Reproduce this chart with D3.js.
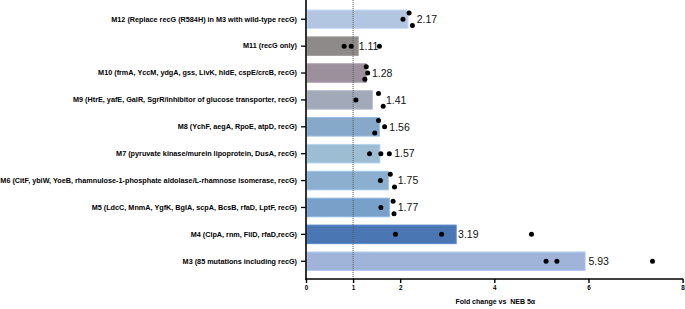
<!DOCTYPE html>
<html>
<head>
<meta charset="utf-8">
<script src="https://cdn.jsdelivr.net/npm/d3@7"></script>
<style>
  html, body { margin: 0; padding: 0; background: #fff; }
  svg { display: block; font-family: "Liberation Sans", Arial, Helvetica, sans-serif; }
</style>
</head>
<body>
<svg id="chart" width="685" height="309"></svg>
<script>
// ---- data ----
const categories = [
  "M12 (Replace recG (R584H) in M3 with wild-type recG)",
  "M11 (recG only)",
  "M10 (frmA, YccM, ydgA, gss, LivK, hldE, cspE/crcB, recG)",
  "M9 (HtrE, yafE, GalR, SgrR/inhibitor of glucose transporter, recG)",
  "M8 (YchF, aegA, RpoE, atpD, recG)",
  "M7 (pyruvate kinase/murein lipoprotein, DusA, recG)",
  "M6 (CitF, ybiW, YoeB, rhamnulose-1-phosphate aldolase/L-rhamnose isomerase, recG)",
  "M5 (LdcC, MnmA, YgfK, BglA, scpA, BcsB, rfaD, LptF, recG)",
  "M4 (ClpA, rnm, FliD, rfaD,recG)",
  "M3 (85 mutations including recG)"
];
const meanValues = [2.17, 1.11, 1.28, 1.41, 1.56, 1.57, 1.75, 1.77, 3.19, 5.93];
const meanLabels = ["2.17", "1.11", "1.28", "1.41", "1.56", "1.57", "1.75", "1.77", "3.19", "5.93"];
// replicate values (three per strain)
const rep1 = [2.19, 0.81, 1.28, 1.54, 1.54, 1.35, 1.79, 1.85, 1.90, 5.10];
const rep2 = [2.06, 0.96, 1.31, 1.06, 1.67, 1.59, 1.58, 1.59, 2.88, 5.33];
const rep3 = [2.26, 1.56, 1.25, 1.64, 1.46, 1.77, 1.88, 1.87, 4.79, 7.36];
// row of each replicate within the bar (-1 upper, 0 middle, 1 lower)
const rep1Row = [-1, 0, -1, -1, -1, 0, -1, -1, 0, 0];
const rep2Row = [0, 0, 0, 0, 0, 0, 0, 0, 0, 0];
const rep3Row = [1, 0, 1, 1, 1, 0, 1, 1, 0, 0];
// where the mean label starts (in fold-change units)
const labelAt = [2.35, 1.12, 1.40, 1.70, 1.77, 1.875, 1.95, 1.95, 3.23, 6.0];
const barColors = ["#b2c6e1", "#8e8a8a", "#9c909d", "#a2a9b8", "#86a9c9", "#9dbdd3",
                   "#8cafcf", "#78a0c9", "#4b76b4", "#a0b4d9"];
const xTicks = [0, 1, 2, 4, 6, 8];
const refLine = 1;
const xTitle = "Fold change vs  NEB 5\u03b1";

// ---- layout ----
const svg = d3.select("#chart");
const x0 = 306, x1 = 682.6, axisY = 279;

const x = d3.scaleLinear().domain([0, 8]).range([x0, x1]);
const y = d3.scaleBand().domain(categories).range([5.8, 274.7])
  .paddingInner(0.31).paddingOuter(0.155);

// bars
svg.append("g").selectAll("rect").data(categories).join("rect")
  .attr("x", x(0) + 1)
  .attr("y", d => y(d))
  .attr("width", (d, i) => x(meanValues[i]) - x(0) - 1)
  .attr("height", y.bandwidth())
  .attr("fill", (d, i) => barColors[i])
  .attr("stroke", (d, i) => d3.color(barColors[i]).brighter(0.35))
  .attr("stroke-width", 1);

// reference dotted line
svg.append("line")
  .attr("x1", x(refLine)).attr("x2", x(refLine))
  .attr("y1", 0).attr("y2", axisY)
  .attr("stroke", "#555").attr("stroke-width", 1)
  .attr("stroke-dasharray", "1,1");

// replicate dots
const pts = [];
categories.forEach((c, i) => {
  [[rep1, rep1Row], [rep2, rep2Row], [rep3, rep3Row]].forEach(([v, r]) => {
    pts.push({ c, v: v[i], r: r[i] });
  });
});
svg.append("g").selectAll("circle").data(pts).join("circle")
  .attr("cx", d => x(d.v))
  .attr("cy", d => y(d.c) + y.bandwidth() / 2 + d.r * 6.3)
  .attr("r", 2.5)
  .attr("fill", "#000");

// mean labels
svg.append("g").selectAll("text").data(categories).join("text")
  .attr("x", (d, i) => x(labelAt[i]))
  .attr("y", d => y(d) + y.bandwidth() / 2)
  .attr("dy", "0.36em")
  .attr("font-size", "10.5px")
  .attr("fill", "#111")
  .text((d, i) => meanLabels[i]);

// y axis
const yAxis = d3.axisLeft(y).tickSize(5).tickPadding(4);
const gy = svg.append("g").attr("transform", `translate(${x0},0)`).call(yAxis);
gy.select(".domain").remove();
gy.selectAll(".tick line").attr("stroke", "#000").attr("stroke-width", 1.3);
gy.selectAll(".tick text")
  .attr("font-size", "7.25px").attr("font-weight", "bold").attr("fill", "#000")
  .attr("font-family", "Liberation Sans, Arial, sans-serif");
svg.append("line")
  .attr("x1", x0).attr("x2", x0).attr("y1", 0).attr("y2", axisY + 0.75)
  .attr("stroke", "#000").attr("stroke-width", 1.6);

// x axis
const xAxis = d3.axisBottom(x).tickValues(xTicks).tickSize(4).tickPadding(3)
  .tickFormat(d3.format("d"));
const gx = svg.append("g").attr("transform", `translate(0,${axisY})`).call(xAxis);
gx.select(".domain").remove();
gx.selectAll(".tick line").attr("stroke", "#000").attr("stroke-width", 1.4);
gx.selectAll(".tick text")
  .attr("font-size", "6.3px").attr("font-weight", "bold").attr("fill", "#000")
  .attr("font-family", "Liberation Sans, Arial, sans-serif");
svg.append("line")
  .attr("x1", x0 - 0.8).attr("x2", x1 + 0.7).attr("y1", axisY).attr("y2", axisY)
  .attr("stroke", "#000").attr("stroke-width", 1.6);

// x title
svg.append("text")
  .attr("x", (x0 + x1) / 2 + 1).attr("y", 304)
  .attr("text-anchor", "middle")
  .attr("font-size", "7px").attr("font-weight", "bold").attr("fill", "#000")
  .style("white-space", "pre")
  .text(xTitle);
</script>
</body>
</html>
